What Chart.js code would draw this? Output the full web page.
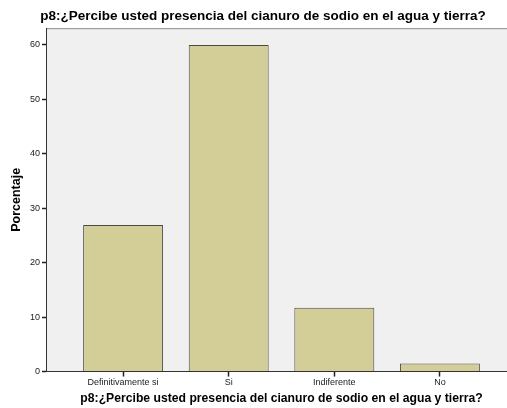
<!DOCTYPE html>
<html>
<head>
<meta charset="utf-8">
<script src="https://cdn.jsdelivr.net/npm/chart.js@4/dist/chart.umd.min.js"></script>
<style>
  html, body { margin: 0; padding: 0; background: #fff; overflow: hidden; }
  #wrap { width: 523px; height: 408px; position: relative; }
</style>
</head>
<body>
<div id="wrap"><canvas id="chart"></canvas></div>
<script>
// Data
const categories = ['Definitivamente si', 'Si', 'Indiferente', 'No'];
const percentages = [26.9, 59.9, 11.7, 1.5];
const yTickValues = [0, 10, 20, 30, 40, 50, 60];

const titleText = 'p8:¿Percibe usted presencia del cianuro de sodio en el agua y tierra?';
const fontFamily = "Arial, 'Liberation Sans', sans-serif";

// Grey plot background with a thin top border, SPSS style
const plotBackground = {
    id: 'plotBackground',
    beforeDraw(chart) {
        const { ctx, chartArea: a } = chart;
        ctx.save();
        ctx.fillStyle = '#f0f0f0';
        ctx.fillRect(a.left, a.top, a.right - a.left, a.bottom - a.top);
        ctx.strokeStyle = '#8c8c8c';
        ctx.lineWidth = 1;
        ctx.beginPath();
        ctx.moveTo(a.left, a.top + 0.5);
        ctx.lineTo(a.right, a.top + 0.5);
        ctx.stroke();
        ctx.restore();
    }
};

const ctx = document.getElementById('chart').getContext('2d');
new Chart(ctx, {
    type: 'bar',
    data: {
        datasets: [{
            data: percentages.map((v, i) => ({ x: i, y: v })),
            backgroundColor: '#d3ce97',
            borderColor: '#4a4a4a',
            borderWidth: 1,
            barPercentage: 1,
            categoryPercentage: 0.757
        }]
    },
    options: {
        responsive: true,
        maintainAspectRatio: false,
        animation: false,
        layout: { padding: { top: 6, right: 6, bottom: 2, left: 9 } },
        plugins: {
            legend: { display: false },
            tooltip: { enabled: false },
            title: {
                display: true,
                text: titleText,
                color: '#000',
                font: { family: fontFamily, size: 13.5, weight: 'bold' },
                padding: { top: 2, bottom: 4 }
            }
        },
        scales: {
            x: {
                type: 'linear',
                offset: false,
                min: -0.73,
                max: 3.73,
                afterBuildTicks: axis => { axis.ticks = categories.map((c, i) => ({ value: i })); },
                grid: {
                    drawOnChartArea: false, drawTicks: true, tickLength: 5,
                    color: '#222', tickColor: '#222', tickWidth: 1.5, offset: false
                },
                border: { color: '#333', width: 1 },
                ticks: {
                    callback: v => categories[v],
                    color: '#222',
                    font: { family: fontFamily, size: 9 },
                    padding: 1,
                    maxRotation: 0,
                    autoSkip: false
                },
                title: {
                    display: true,
                    text: titleText,
                    color: '#000',
                    font: { family: fontFamily, size: 12.2, weight: 'bold' },
                    padding: { top: 2, bottom: 0 }
                }
            },
            y: {
                min: 0,
                max: 63,
                afterBuildTicks: axis => { axis.ticks = yTickValues.map(v => ({ value: v })); },
                grid: {
                    drawOnChartArea: false, drawTicks: true, tickLength: 4,
                    color: '#222', tickColor: '#222', tickWidth: 1.5
                },
                border: { color: '#333', width: 1 },
                ticks: {
                    color: '#222',
                    font: { family: fontFamily, size: 9 },
                    padding: 2
                },
                title: {
                    display: true,
                    text: 'Porcentaje',
                    color: '#000',
                    font: { family: fontFamily, size: 12.5, weight: 'bold' },
                    padding: { top: 0, bottom: 4 }
                }
            }
        }
    },
    plugins: [plotBackground]
});
</script>
</body>
</html>
